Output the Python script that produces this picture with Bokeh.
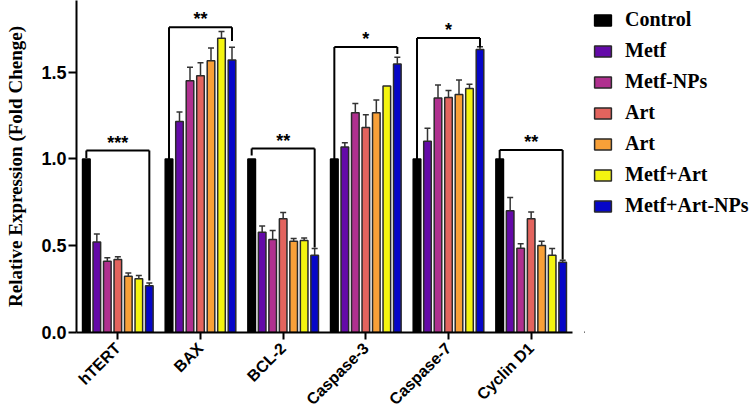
import math
import numpy as np
from bokeh.plotting import figure
from bokeh.layouts import row
from bokeh.models import (ColumnDataSource, FactorRange, Range1d, FixedTicker,
                          PrintfTickFormatter, Legend, LegendItem)
from bokeh.transform import dodge
from bokeh.core.properties import value
from bokeh.embed import file_html
from bokeh.resources import INLINE

# ---------------- data ----------------
genes = ["hTERT", "BAX", "BCL-2", "Caspase-3", "Caspase-7", "Cyclin D1"]
groups = ["Control", "Metf", "Metf-NPs", "Art", "Art", "Metf+Art", "Metf+Art-NPs"]

control      = [1.0, 1.0, 1.0, 1.0, 1.0, 1.0]
metf         = [0.522, 1.216, 0.578, 1.069, 1.102, 0.701]
metf_nps     = [0.410, 1.451, 0.536, 1.266, 1.351, 0.486]
art          = [0.420, 1.480, 0.655, 1.181, 1.354, 0.655]
art_b        = [0.324, 1.566, 0.526, 1.266, 1.372, 0.501]
metf_art     = [0.310, 1.695, 0.530, 1.420, 1.406, 0.445]
metf_art_nps = [0.270, 1.570, 0.445, 1.547, 1.630, 0.405]

control_err      = [0, 0, 0, 0, 0, 0]
metf_err         = [0.046, 0.055, 0.036, 0.025, 0.075, 0.077]
metf_nps_err     = [0.020, 0.077, 0.052, 0.054, 0.075, 0.025]
art_err          = [0.017, 0.075, 0.037, 0.073, 0.040, 0.039]
art_b_err        = [0.019, 0.073, 0.015, 0.073, 0.083, 0.025]
metf_art_err     = [0.018, 0.040, 0.015, 0.000, 0.025, 0.039]
metf_art_nps_err = [0.015, 0.073, 0.039, 0.039, 0.017, 0.011]

series = [control, metf, metf_nps, art, art_b, metf_art, metf_art_nps]
errors = [control_err, metf_err, metf_nps_err, art_err, art_b_err, metf_art_err, metf_art_nps_err]

# significance brackets (Control vs Metf+Art-NPs)
sig_top   = [1.048, 1.759, 1.060, 1.645, 1.697, 1.052]
sig_left  = [1.005, 1.000, 1.020, 1.000, 1.000, 1.000]
sig_right = [0.300, 1.680, 0.490, 1.605, 1.643, 0.420]
sig_stars = ["***", "**", "**", "*", "*", "**"]

y_ticks = [0.0, 0.5, 1.0, 1.5]

# ---------------- style ----------------
colors = ["#000000", "#640aa8", "#b0308f", "#e3645e", "#f8a038", "#f4f410", "#0606c8"]
slot = 0.127
bar_w = 0.092
offsets = [(i - 3) * slot for i in range(7)]

p = figure(width=584, height=417, output_backend="svg", toolbar_location=None,
           x_range=FactorRange(factors=genes, range_padding=0),
           y_range=Range1d(0, 1.913),
           min_border_left=76, min_border_right=12, min_border_top=0, min_border_bottom=80)
p.outline_line_color = None
p.xgrid.grid_line_color = None
p.ygrid.grid_line_color = None
p.background_fill_color = "white"

# legend panel (separate figure sharing the same glyph styles)
pl = figure(width=167, height=417, output_backend="svg", toolbar_location=None,
            x_axis_type=None, y_axis_type=None,
            x_range=Range1d(0, 1), y_range=Range1d(0, 1),
            min_border=0)
pl.outline_line_color = None
pl.xgrid.grid_line_color = None
pl.ygrid.grid_line_color = None

items = []
for i, (vals, errs) in enumerate(zip(series, errors)):
    lc = "#000000" if i == 0 else "#2a2a2a"
    src = ColumnDataSource(dict(gene=genes, top=vals))
    p.vbar(x=dodge("gene", offsets[i], range=p.x_range), top="top", width=bar_w,
           source=src, fill_color=colors[i], line_color=lc, line_width=1.5)
    # legend proxy glyph kept outside the visible legend-panel range
    lr = pl.vbar(x=[-5], top=[0], width=0.1, fill_color=colors[i], line_color=lc, line_width=1.5)
    items.append(LegendItem(label=groups[i], renderers=[lr]))
    e = np.array(errs, dtype=float)
    mask = e > 0
    if mask.any():
        g = [genes[k] for k in range(len(genes)) if mask[k]]
        v = np.array(vals)[mask]
        esrc = ColumnDataSource(dict(gene=g, y0=v, y1=v + e[mask]))
        xd = dodge("gene", offsets[i], range=p.x_range)
        p.segment(x0=xd, x1=xd, y0="y0", y1="y1", source=esrc,
                  line_color="#333333", line_width=1.5)
        p.scatter(x=xd, y="y1", source=esrc, marker="dash", size=6,
                  line_color="#333333", line_width=1.5)

# brackets
bsrc = ColumnDataSource(dict(gene=genes, top=sig_top, left=sig_left, right=sig_right,
                             stars=sig_stars, star_y=[t + 0.045 for t in sig_top]))
xl = dodge("gene", offsets[0], range=p.x_range)
xr = dodge("gene", offsets[6], range=p.x_range)
p.segment(x0=xl, x1=xl, y0="left", y1="top", source=bsrc, line_color="black", line_width=2)
p.segment(x0=xl, x1=xr, y0="top", y1="top", source=bsrc, line_color="black", line_width=2)
p.segment(x0=xr, x1=xr, y0="top", y1="right", source=bsrc, line_color="black", line_width=2)
p.text(x="gene", y="star_y", text="stars", source=bsrc, text_align="center",
       text_baseline="middle", text_font=value("Liberation Sans"),
       text_font_style="bold", text_font_size="18px", text_color="black")

# axes
for ax in (p.xaxis[0], p.yaxis[0]):
    ax.axis_line_width = 2
    ax.axis_line_color = "black"
    ax.major_tick_line_width = 2
    ax.major_tick_line_color = "black"
    ax.major_tick_in = 0
    ax.major_tick_out = 8
    ax.minor_tick_line_color = None
    ax.major_label_text_font = "Liberation Sans"
    ax.major_label_text_font_style = "bold"
    ax.major_label_text_color = "black"

p.yaxis.ticker = FixedTicker(ticks=y_ticks)
p.yaxis.formatter = PrintfTickFormatter(format="%.1f")
p.yaxis.major_label_text_font_size = "18px"
p.yaxis.major_label_standoff = 2
p.yaxis.axis_label = "Relative Expression (Fold Chenge)"
p.yaxis.axis_label_text_font = "Liberation Serif"
p.yaxis.axis_label_text_font_style = "bold"
p.yaxis.axis_label_text_font_size = "19px"
p.yaxis.axis_label_text_color = "black"
p.yaxis.axis_label_standoff = 12

p.xaxis.major_tick_out = 7
p.xaxis.major_label_orientation = math.pi / 4
p.xaxis.major_label_text_font_size = "16px"
p.xaxis.major_label_standoff = 6

legend = Legend(items=items, location="top_left", padding=8, margin=0, spacing=8,
                glyph_width=21, glyph_height=14, label_standoff=12, label_height=22,
                label_text_font="Liberation Serif", label_text_font_style="bold",
                label_text_font_size="20px", label_text_color="black",
                background_fill_alpha=0, border_line_alpha=0)
pl.add_layout(legend, "center")

layout = row(p, pl)
open("out.html", "w").write(file_html(layout, INLINE))
